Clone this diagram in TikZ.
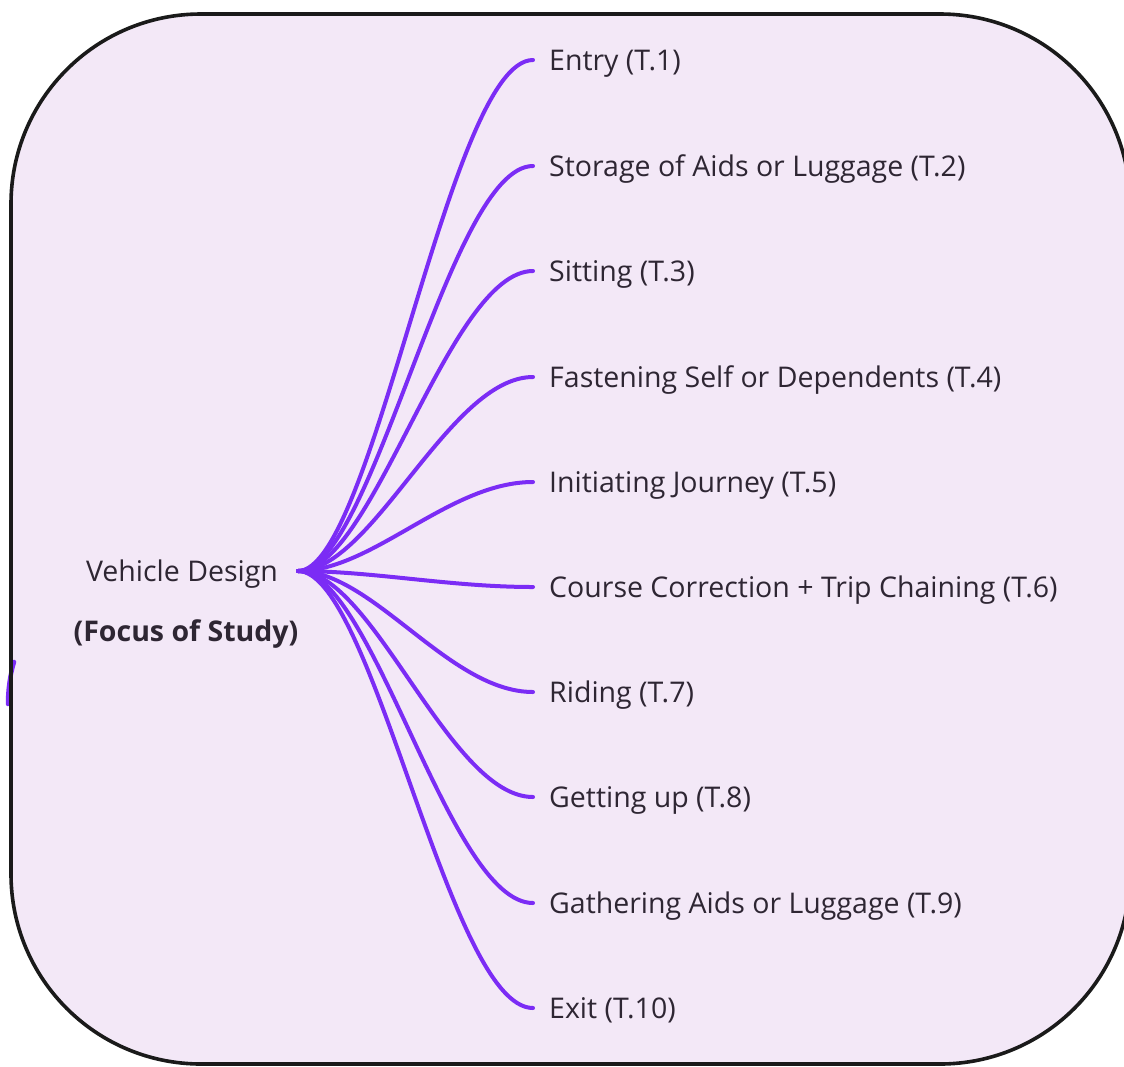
\documentclass[tikz,border=0pt]{standalone}
\usepackage{fontspec}
\setmainfont{Open Sans}
\definecolor{boxfill}{HTML}{F3E8F7}
\definecolor{branch}{HTML}{7B2CF5}
\definecolor{txt}{HTML}{2E2633}
\definecolor{border}{HTML}{1A1A1A}
\tikzset{
  leaf/.style={anchor=base west, inner sep=0pt, text=txt, font=\fontsize{28.5}{34}\selectfont},
  rootlbl/.style={anchor=base, inner sep=0pt, text=txt, font=\fontsize{28.5}{34}\selectfont},
  conn/.style={draw=branch, line width=4pt, line cap=round},
}
\begin{document}
\begin{tikzpicture}[x=1pt,y=-1pt]
\useasboundingbox (0,0) rectangle (1124,1066);
\clip (0,0) rectangle (1124,1066);
\draw[draw=border, fill=boxfill, line width=3.6pt, rounded corners=190pt] (11,14) rectangle (1130,1064);
% small clipped mark on the left edge
\draw[conn, line width=4.5pt] (14,662) .. controls (10,675) and (8,690) .. (8,704);
\draw[draw=border, line width=3.6pt] (11,640) -- (11,725);

\coordinate (root) at (298,571);
\node[rootlbl] (vd) at (182,581) {Vehicle Design};
\node[rootlbl, font=\fontsize{28.5}{34}\selectfont\bfseries] (fs) at (186,641) {(Focus of Study)};

\foreach \i/\y/\t in {1/60/{Entry (T.1)},
  2/166/{Storage of Aids or Luggage (T.2)},
  3/271/{Sitting (T.3)},
  4/377/{Fastening Self or Dependents (T.4)},
  5/482/{Initiating Journey (T.5)},
  6/587/{Course Correction + Trip Chaining (T.6)},
  7/692/{Riding (T.7)},
  8/797/{Getting up (T.8)},
  9/903/{Gathering Aids or Luggage (T.9)},
  10/1008/{Exit (T.10)}} {
  \coordinate (e\i) at (533,\y);
  \node[leaf] (l\i) at (549,\y+10) {\t};
  \draw[conn] (root) .. controls +(75,0) and +(-84,0) .. (e\i);
}
\end{tikzpicture}
\end{document}
